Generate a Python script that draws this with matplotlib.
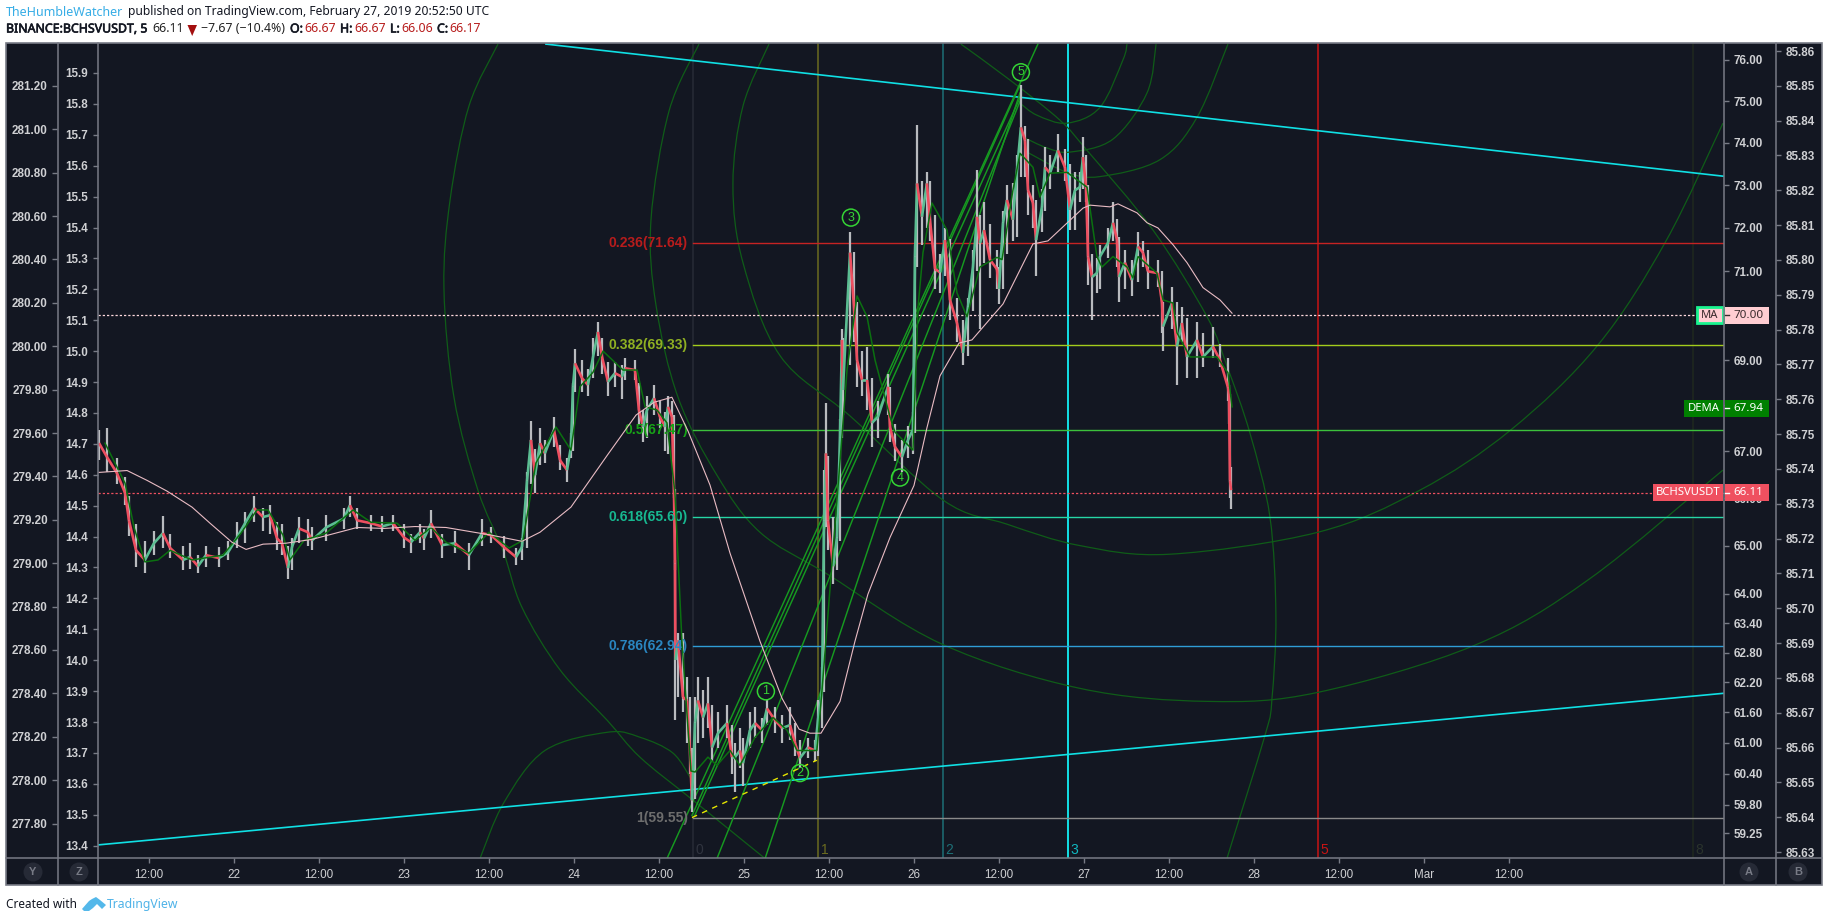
import numpy as np
import matplotlib
matplotlib.use("Agg")
import matplotlib.pyplot as plt
import matplotlib.patheffects as pe
from matplotlib.collections import LineCollection
from matplotlib.patches import Rectangle, Circle, Polygon, PathPatch
from matplotlib.path import Path
from matplotlib.ticker import FixedLocator, FixedFormatter, NullLocator

# ---------- data (days of Feb 2019; day 29 = 1 March) ----------
bar_day = [21.206,21.253,21.312,21.359,21.382,21.424,21.476,21.529,21.582,21.624,21.700,21.741,21.788,21.835,21.912,21.965,
 22.018,22.065,22.118,22.171,22.212,22.253,22.282,22.318,22.341,22.382,22.435,22.459,22.541,22.647,22.682,22.724,22.806,22.871,22.935,
 23.0,23.041,23.094,23.118,23.159,23.224,23.3,23.382,23.459,23.512,23.588,23.659,23.694,23.724,23.747,23.771,23.8,23.829,23.882,23.918,23.959,23.982,
 23.994,24.006,24.047,24.082,24.112,24.141,24.165,24.2,24.241,24.282,24.3,24.359,24.382,24.406,24.429,24.471,24.506,24.535,24.553,24.576,24.588,
 24.594,24.597,24.612,24.641,24.665,24.682,24.694,24.712,24.729,24.759,24.788,24.812,24.847,24.9,24.929,24.947,24.976,24.994,
 25.035,25.065,25.106,25.135,25.182,25.224,25.271,25.3,25.329,25.376,25.418,25.435,25.459,25.471,25.482,25.494,25.524,25.547,25.565,25.576,25.582,
 25.624,25.647,25.665,25.694,25.724,25.753,25.788,25.847,25.859,25.888,25.929,25.965,25.994,26.006,26.018,26.047,26.076,26.094,26.124,26.153,26.182,
 26.212,26.253,26.288,26.318,26.347,26.371,26.388,26.412,26.447,26.488,26.5,26.524,26.547,26.582,26.606,26.629,26.653,26.671,26.7,26.718,26.753,26.771,
 26.8,26.847,26.888,26.918,26.947,26.976,26.994,27.012,27.024,27.047,27.076,27.094,27.141,27.171,27.194,27.206,27.241,27.282,27.318,27.347,27.376,27.435,
 27.459,27.465,27.518,27.547,27.576,27.606,27.665,27.7,27.759,27.8,27.847,27.853,27.859,27.865]
bar_close = [67.18,66.88,66.53,66.11,65.53,64.90,64.70,65.05,65.26,64.95,64.70,64.76,64.57,64.80,64.74,64.86,
 65.17,65.47,65.79,65.60,65.64,65.15,65.05,64.53,64.97,65.36,65.28,65.11,65.38,65.57,65.85,65.53,65.47,65.40,65.47,
 65.17,65.07,65.28,65.15,65.47,65.01,65.05,64.80,65.26,65.22,64.97,64.76,64.97,66.38,67.25,66.49,67.18,66.96,67.47,66.81,66.60,67.10,
 68.41,68.93,68.60,68.45,69.07,69.63,69.07,68.52,68.71,68.63,68.82,68.78,67.90,67.53,67.90,68.16,67.75,67.53,67.97,67.75,66.17,
 64.63,62.65,63.05,61.90,61.84,60.85,59.88,61.40,61.84,61.50,61.78,60.91,61.19,61.39,60.72,60.72,60.85,60.60,
 61.25,61.39,61.25,61.68,61.45,61.29,61.35,61.00,60.70,60.91,60.85,61.45,62.04,65.53,66.96,65.53,64.57,65.17,67.31,69.45,68.34,
 71.43,70.19,69.00,68.56,68.56,67.62,67.75,68.41,67.53,67.10,66.88,67.25,67.47,71.34,73.04,72.26,73.04,72.19,71.05,70.98,71.72,
 70.35,69.83,69.16,70.20,71.10,72.26,71.65,71.95,71.27,71.05,70.60,72.12,72.65,72.19,73.35,74.37,74.06,72.88,72.58,71.72,72.49,73.42,
 73.28,73.82,73.42,72.42,72.88,72.95,73.66,72.95,71.34,70.87,70.96,71.34,71.65,72.12,71.72,70.87,71.20,70.80,71.57,71.43,71.00,70.96,
 70.28,69.75,70.28,69.30,69.83,69.07,69.45,69.07,69.30,69.00,68.40,68.23,66.38,66.17]
bar_high = [67.47,67.50,66.85,66.45,66.05,65.45,65.10,65.30,65.62,65.25,65.00,65.05,64.80,65.00,64.98,65.10,
 65.50,65.70,66.05,65.80,65.85,65.50,65.45,65.00,65.15,65.60,65.55,65.40,65.65,65.80,66.05,65.80,65.65,65.62,65.65,
 65.45,65.25,65.45,65.35,65.75,65.25,65.30,65.05,65.55,65.40,65.20,64.95,65.15,66.55,67.65,67.05,67.50,67.25,67.75,67.15,66.85,67.40,
 68.50,69.25,69.00,68.80,69.50,69.85,69.50,68.95,68.95,68.90,69.05,69.00,68.50,67.90,68.20,68.45,68.10,67.85,68.20,68.10,67.80,
 66.20,64.70,63.20,63.20,62.30,61.90,60.90,61.90,62.30,62.05,62.30,61.75,61.60,61.75,61.35,61.00,61.30,61.10,
 61.60,61.70,61.50,61.85,61.70,61.55,61.70,61.40,61.05,61.10,61.05,61.85,62.50,66.60,68.05,66.90,65.60,65.60,67.70,69.70,69.50,
 71.90,71.45,70.30,69.20,69.30,68.60,68.10,68.70,68.40,67.60,67.25,67.55,67.85,71.60,74.42,73.10,73.30,73.10,72.30,71.40,72.00,
 71.75,70.40,69.90,70.40,71.50,73.35,72.30,72.60,72.10,71.50,71.10,72.40,73.00,73.05,73.70,75.39,74.40,74.10,73.00,72.65,72.90,73.90,
 73.70,74.20,73.85,73.50,73.30,73.30,74.15,73.70,73.00,71.40,71.30,71.60,72.00,72.60,72.20,71.80,71.50,71.25,71.90,71.70,71.50,71.25,
 71.00,70.30,70.65,70.30,70.20,69.95,69.85,69.60,69.75,69.35,69.05,68.45,68.25,66.67]
bar_low = [66.81,66.55,66.30,65.85,65.20,64.55,64.42,64.80,64.95,64.75,64.50,64.52,64.42,64.55,64.55,64.70,
 64.95,65.05,65.50,65.30,65.25,64.90,64.80,64.30,64.50,65.05,65.00,64.90,65.10,65.35,65.60,65.35,65.30,65.28,65.30,
 64.95,64.85,65.05,64.90,65.15,64.75,64.85,64.50,65.00,65.05,64.75,64.60,64.70,64.95,66.30,66.10,66.70,66.75,67.10,66.60,66.35,66.85,
 67.00,68.30,68.30,68.20,68.60,69.10,68.70,68.20,68.40,68.15,68.55,68.55,67.60,67.20,67.30,67.80,67.50,67.00,66.95,67.40,66.00,
 64.50,61.45,61.90,61.60,61.00,60.40,59.65,59.90,61.00,61.10,61.30,60.65,60.90,61.10,60.40,60.05,60.50,60.15,
 60.90,61.10,61.00,61.35,61.20,61.00,61.05,60.75,60.50,60.70,60.65,60.75,61.30,62.00,65.40,64.90,64.20,64.50,65.10,67.30,67.80,
 68.90,69.40,68.40,68.20,67.90,67.10,67.30,67.80,67.20,66.80,66.55,66.85,66.95,67.40,71.10,71.60,72.00,71.70,70.60,70.50,70.90,
 69.90,69.40,68.90,69.10,70.10,71.00,69.70,71.20,70.85,70.60,70.25,70.60,71.40,71.70,71.80,73.20,73.20,72.30,72.00,70.90,71.90,72.40,
 72.90,73.30,73.10,71.95,71.95,72.60,72.90,72.60,70.70,69.90,70.50,70.60,71.30,71.70,71.10,70.30,70.60,70.45,70.75,71.10,70.60,70.65,
 69.60,69.20,69.70,68.45,69.40,68.60,68.60,68.85,69.05,68.85,68.10,67.60,66.00,65.78]

ma_day = [21.206,21.371,21.488,21.606,21.753,21.859,21.988,22.071,22.171,22.306,22.459,22.618,22.724,22.882,23.065,23.247,23.512,23.694,23.8,23.982,
 24.2,24.365,24.471,24.576,24.671,24.8,24.918,25.094,25.224,25.324,25.388,25.453,25.565,25.653,25.729,25.859,26.0,26.076,26.153,26.265,26.341,26.524,26.7,26.788,
 26.994,27.035,27.153,27.2,27.312,27.371,27.435,27.524,27.606,27.7,27.8,27.871]
ma_val = [66.55,66.59,66.38,66.15,65.81,65.47,65.07,64.92,65.03,65.05,65.13,65.28,65.38,65.36,65.40,65.38,65.22,65.09,65.28,65.81,
 66.94,67.79,68.07,68.18,67.44,66.28,64.84,63.03,61.88,61.27,61.19,61.19,61.82,63.03,63.99,65.17,66.27,67.51,68.65,69.38,69.45,70.26,71.63,71.70,
 72.46,72.53,72.49,72.56,72.35,72.12,72.00,71.61,71.20,70.63,70.35,70.05]

dema_day = [21.241,21.359,21.412,21.476,21.553,21.624,21.753,21.935,22.041,22.135,22.2,22.288,22.329,22.412,22.541,22.7,22.806,22.959,23.065,23.159,23.247,23.382,23.5,23.618,23.7,23.776,23.894,23.982,
 24.035,24.112,24.171,24.288,24.371,24.418,24.488,24.547,24.594,24.635,24.688,24.712,24.788,24.841,24.918,24.976,25.065,25.171,25.253,25.312,25.429,25.459,25.576,25.606,25.665,25.724,25.771,25.859,25.888,25.994,
 26.024,26.053,26.106,26.194,26.253,26.312,26.388,26.488,26.518,26.582,26.624,26.7,26.741,26.8,26.9,27.018,27.076,27.106,27.171,27.253,27.288,27.318,27.429,27.465,27.524,27.547,27.624,27.7,27.782,27.847,27.871]
dema_val = [67.18,66.32,65.38,64.66,64.70,64.90,64.70,64.80,65.26,65.75,65.75,65.22,64.70,65.11,65.26,65.75,65.49,65.47,65.11,65.38,65.07,64.84,65.28,64.95,65.11,66.75,67.53,67.03,
 68.41,68.73,69.20,68.78,68.78,67.97,67.90,67.62,66.11,63.03,60.45,60.43,60.72,60.56,60.85,60.56,61.11,61.50,61.25,60.85,60.85,62.04,67.31,68.78,70.44,69.97,69.00,67.75,67.42,67.03,
 70.19,71.43,72.58,71.95,70.51,69.97,71.10,71.32,71.27,72.88,73.75,73.42,72.72,73.28,73.30,72.95,71.34,71.10,71.34,71.10,70.85,71.34,70.96,70.35,70.28,69.61,69.07,69.07,69.07,68.72,67.97]

fib_ratio = ["0.236", "0.382", "0.5", "0.618", "0.786", "1"]
fib_level = [71.64, 69.33, 67.47, 65.60, 62.94, 59.55]
fib_line_color = ["#c62323", "#a3cc1c", "#3cc13c", "#26d6a6", "#2f9dd6", "#8a8a8a"]
fib_text_color = ["#b71c1c", "#8fb022", "#17a317", "#17b890", "#2a86c0", "#6d6d6d"]
fib_start_day = 24.7
fib_label_day = 24.67

zone_day = [24.7, 25.435, 26.17, 26.906, 28.376, 30.582]
zone_label = ["0", "1", "2", "3", "5", "8"]
zone_color = ["#272b36", "#6b6b20", "#1d6f76", "#12e0e6", "#c81414", "#20291f"]
zone_text = ["#30343f", "#6b6b20", "#1d6f76", "#10b8c0", "#c81414", "#2a332c"]

trend_up_day, trend_up_val = [23.835, 30.759], [76.39, 73.21]
trend_lo_day, trend_lo_val = [21.206, 30.759], [59.03, 61.98]

arc_a_day = [23.553,23.382,23.271,23.235,23.294,23.435,23.582,23.694,23.918,24.194,24.388,24.694,25.124]
arc_a_val = [76.39,74.88,72.65,70.62,68.18,66.17,64.90,63.72,62.45,61.45,60.72,59.90,58.77]
arc_b_day = [25.147,24.994,24.935,24.994,25.212,25.624,26.171,26.547,26.976,27.506,28.376,28.976,29.512,30.024,30.424,30.759]
arc_b_val = [76.39,74.88,73.02,71.20,69.10,67.77,65.96,65.45,65.00,64.82,65.28,66.17,67.47,69.34,71.70,74.47]
arc_c_day = [24.735,24.559,24.453,24.482,24.612,24.841,25.094,25.488,26.165,26.976,27.729,28.376,29.3,29.971,30.759]
arc_c_val = [76.39,74.76,72.19,70.24,68.18,66.49,65.28,64.41,62.97,62.08,61.82,62.00,62.95,64.30,66.60]
arc_d_day = [26.276,26.565,26.859,27.018,27.406,27.724,27.841,27.976,28.094,28.129,28.106,28.065,27.841]
arc_d_val = [76.39,75.51,74.54,73.82,71.95,69.97,68.87,67.40,65.60,63.56,61.88,61.15,58.77]
arc_e_day = [23.447,23.588,23.829,24.2,24.388,24.582,24.694]
arc_e_val = [58.77,59.84,60.85,61.21,61.11,60.80,60.27]
arc_f_day = [26.624,26.724,26.9,27.094,27.229,27.253]
arc_f_val = [74.95,74.66,74.47,74.85,76.00,76.39]
arc_g_day = [26.641,26.782,26.918,27.171,27.371,27.424]
arc_g_val = [74.14,73.88,73.78,74.09,75.20,76.39]
arc_h_day = [26.665,26.9,27.094,27.447,27.665,27.847]
arc_h_val = [73.78,73.30,73.20,73.60,74.61,76.39]

fan_day = [[24.547,26.729],[24.694,26.624],[24.71,26.63],[24.841,26.624],[25.124,26.624]]
fan_val = [[58.77,76.39],[59.59,75.39],[59.59,75.14],[58.77,75.00],[58.77,75.20]]

wave_label = ["1", "2", "3", "4", "5"]
wave_day = [25.129, 25.329, 25.629, 25.918, 26.629]
wave_val = [62.02, 60.41, 72.24, 66.44, 75.70]
base_day, base_val = [24.694, 25.429], [59.55, 60.66]

a_ticks = [76,75,74,73,72,71,70,69,68,67,66,65,64,63.4,62.8,62.2,61.6,61,60.4,59.8,59.25]
y_ticks = [281.2,281.0,280.8,280.6,280.4,280.2,280.0,279.8,279.6,279.4,279.2,279.0,278.8,278.6,278.4,278.2,278.0,277.8]
z_ticks = [15.9,15.8,15.7,15.6,15.5,15.4,15.3,15.2,15.1,15.0,14.9,14.8,14.7,14.6,14.5,14.4,14.3,14.2,14.1,14.0,13.9,13.8,13.7,13.6,13.5,13.4]
b_ticks = [85.86,85.85,85.84,85.83,85.82,85.81,85.80,85.79,85.78,85.77,85.76,85.75,85.74,85.73,85.72,85.71,85.70,85.69,85.68,85.67,85.66,85.65,85.64,85.63]
time_ticks = [21.5,22,22.5,23,23.5,24,24.5,25,25.5,26,26.5,27,27.5,28,28.5,29,29.5]
time_labels = ["12:00","22","12:00","23","12:00","24","12:00","25","12:00","26","12:00","27","12:00","28","12:00","Mar","12:00"]

tag_name = ["MA", "DEMA", "BCHSVUSDT"]
tag_value = [70.00, 67.94, 66.11]
tag_fill = ["#ffcdd2", "#008000", "#ef5060"]
tag_ink = ["#3a2a2c", "#ffffff", "#ffffff"]

# ---------- layout ----------
W, H = 1828, 922
BG = "#131722"
FRAME = "#787b86"
TXT = "#cfd0d3"
FONT = "Liberation Sans"
plt.rcParams["font.family"] = [FONT, "DejaVu Sans"]

def box(x0, y0, x1, y1):
    return [x0 / W, 1 - y1 / H, (x1 - x0) / W, (y1 - y0) / H]

def smooth_path(dd, vv):
    """A Bezier curve through the given points (drawing tool arcs are curves)."""
    p = np.column_stack([dd, vv])
    q = np.vstack([p[0], p, p[-1]])
    verts, codes = [p[0]], [Path.MOVETO]
    for i in range(1, len(q) - 2):
        verts += [q[i] + (q[i + 1] - q[i - 1]) / 6, q[i + 1] - (q[i + 2] - q[i]) / 6, q[i + 1]]
        codes += [Path.CURVE4] * 3
    return Path(np.array(verts), codes)

fig = plt.figure(figsize=(W / 100, H / 100), dpi=100, facecolor="white")
PL, PR, PT, PB = 97.5, 1724, 43, 858

under = fig.add_axes([0, 0, 1, 1], zorder=0)
under.set_xlim(0, W); under.set_ylim(H, 0); under.axis("off")
under.add_patch(Rectangle((6, 43), 1816, 842, fc=BG, ec="none"))

ax = fig.add_axes(box(PL, PT, PR, PB), zorder=2, facecolor="none")
ax.set_yscale("log")
ax.set_xlim(21.197, 30.765)
ax.set_ylim(58.78, 76.417)
for s in ax.spines.values():
    s.set_visible(False)

# time zones
for d, c in zip(zone_day, zone_color):
    ax.axvline(d, color=c, lw=1.4 if c == "#12e0e6" else 1.1, zorder=1)
for d, l, c in zip(zone_day, zone_label, zone_text):
    ax.text(d + 0.016, 0.0098, l, transform=ax.get_xaxis_transform(), color=c, fontsize=10, va="center", ha="left")

# arcs
for dd, vv in [(arc_a_day, arc_a_val), (arc_b_day, arc_b_val), (arc_c_day, arc_c_val), (arc_d_day, arc_d_val),
               (arc_e_day, arc_e_val), (arc_f_day, arc_f_val), (arc_g_day, arc_g_val), (arc_h_day, arc_h_val)]:
    ax.add_patch(PathPatch(smooth_path(dd, vv), fill=False, ec="#0f5c18", lw=0.9, zorder=2))

# fib levels
for lv, c in zip(fib_level, fib_line_color):
    ax.plot([fib_start_day, ax.get_xlim()[1]], [lv, lv], color=c, lw=1.0, zorder=2)
for r, lv, c in zip(fib_ratio, fib_level, fib_text_color):
    ax.text(fib_label_day, lv, f"{r}({lv:.2f})", color=c, fontsize=10, fontweight="bold",
            ha="right", va="center", zorder=6)

# last-value dotted lines
ax.axhline(tag_value[0], color="#ffd9de", lw=0.9, dashes=(1.8, 1.6), zorder=2)
ax.axhline(tag_value[2], color="#ef5060", lw=0.9, dashes=(1.8, 1.6), zorder=2)

# trend lines
ax.plot(trend_up_day, trend_up_val, color="#10e0e4", lw=1.2, zorder=3)
ax.plot(trend_lo_day, trend_lo_val, color="#10e0e4", lw=1.2, zorder=3)

# fan
for dd, vv in zip(fan_day, fan_val):
    ax.plot(dd, vv, color="#169a20", lw=1.05, zorder=3)

# candles
days = np.array(bar_day); close = np.array(bar_close)
ax.vlines(days, bar_low, bar_high, color="#b9bbbf", lw=1.6, zorder=4)
segs = [[(days[i - 1], close[i - 1]), (days[i], close[i])] for i in range(1, len(days))]
cols = ["#5bbd92" if close[i] >= close[i - 1] else "#ee4f60" for i in range(1, len(days))]
ax.add_collection(LineCollection(segs, colors=cols, linewidths=1.9, zorder=5, capstyle="butt"))

# indicators
ax.plot(dema_day, dema_val, color="#0b7010", lw=1.1, zorder=6)
ax.plot(ma_day, ma_val, color="#e9bcc4", lw=0.8, zorder=6)

# Elliott waves
ax.plot(base_day, base_val, color="#e6e600", lw=1.0, dashes=(4, 4), zorder=6)
ax.scatter(wave_day, wave_val, s=150, facecolor="none", edgecolor="#35d435", linewidths=1.1, zorder=7)
for l, d, v in zip(wave_label, wave_day, wave_val):
    ax.text(d, v, l, color="#35d435", fontsize=9, ha="center", va="center", zorder=7)

# right price axis and time axis
ax.yaxis.tick_right()
ax.yaxis.set_major_locator(FixedLocator(a_ticks))
ax.yaxis.set_major_formatter(FixedFormatter([f"{v:.2f}" for v in a_ticks]))
ax.yaxis.set_minor_locator(NullLocator())
ax.tick_params(axis="y", which="major", direction="out", length=3.6, width=1, color=FRAME, labelcolor=TXT,
               labelsize=8.4, pad=3)
for t in ax.get_yticklabels():
    t.set_fontweight("bold")
ax.set_xticks(time_ticks)
ax.set_xticklabels(time_labels)
ax.tick_params(axis="x", direction="out", length=3.4, width=1, color=FRAME, labelcolor=TXT, labelsize=8.4, pad=4.5)

def side_axis(x, lo, hi, ticks, fmt, right):
    a = fig.add_axes(box(x, PT, x + 0.2, PB), zorder=3, facecolor="none")
    a.set_ylim(lo, hi)
    a.set_xticks([])
    for s in a.spines.values():
        s.set_visible(False)
    if right:
        a.yaxis.tick_right()
    a.set_yticks(ticks)
    a.set_yticklabels([fmt.format(v) for v in ticks], fontweight="bold")
    a.tick_params(axis="y", direction="out", length=3.6, width=1, color=FRAME, labelcolor=TXT, labelsize=8.4, pad=3.4)
    return a

side_axis(57.5, 277.641, 281.398, y_ticks, "{:.2f}", False)
side_axis(97.5, 13.360, 15.997, z_ticks, "{:.1f}", False)
side_axis(1776, 85.6283, 85.8623, b_ticks, "{:.2f}", True)

# ---------- chrome on top ----------
top = fig.add_axes([0, 0, 1, 1], zorder=5, facecolor="none")
top.set_xlim(0, W); top.set_ylim(H, 0); top.axis("off")
top.add_patch(Rectangle((6, 43), 1816, 842, fc="none", ec=FRAME, lw=1.2))
for x in (57.5, 97.5, 1724, 1776):
    top.plot([x, x], [43, 885], color=FRAME, lw=1.1)
top.plot([6, 1822], [858, 858], color=FRAME, lw=1.1)

for name, val, fill, ink in zip(tag_name, tag_value, tag_fill, tag_ink):
    y = H - ax.transData.transform((25, val))[1]
    x0 = {"MA": 1696, "DEMA": 1684, "BCHSVUSDT": 1653}[name]
    if name == "MA":
        top.add_patch(Rectangle((x0 + 1, y - 8), 1723 - x0 - 1, 16, fc=fill, ec="#19f58f", lw=2.0))
    else:
        top.add_patch(Rectangle((x0, y - 8.5), 1723 - x0, 17, fc=fill, ec="none"))
    top.add_patch(Rectangle((1724.6, y - 8.5), 1769 - 1724.6, 17, fc=fill, ec="none"))
    top.text((x0 + 1723) / 2 + 0.5, y, name, color=ink, fontsize=8.1, ha="center", va="center", family="Noto Sans")
    top.plot([1725, 1728.5], [y, y], color=ink, lw=1)
    top.text(1733, y, f"{val:.2f}", color=ink, fontsize=8.4, ha="left", va="center", family="Noto Sans")

for ch, x in zip("YZAB", (33, 79, 1749, 1798)):
    top.add_patch(Circle((x, 872), 9.5, fc="#262a36", ec="none"))
    top.text(x, 871.5, ch, color="#787b86", fontsize=8, fontweight="bold", ha="center", va="center")

HF = "Noto Sans"
def head(x, y, s, color="#131722", strong=False, size=8.9):
    t = top.text(x, y, s, color=color, fontsize=size, family=HF, ha="left", va="center")
    if strong:
        t.set_path_effects([pe.withStroke(linewidth=0.45, foreground=color)])

head(6, 12, "TheHumbleWatcher", color="#37ade6", size=9.0)
head(128, 12, "published on TradingView.com, February 27, 2019 20:52:50 UTC", size=8.7)
head(6, 29, "BINANCE:BCHSVUSDT, 5", strong=True)
head(152, 29, "66.11", color="#222222")
top.add_patch(Polygon([(187.5, 25), (197, 25), (192.2, 36)], fc="#a30f0f", ec="none"))
head(201, 29, "\u22127.67 (\u221210.4%)", color="#222222")
for x, s in zip((290, 340, 390, 437), ("O:", "H:", "L:", "C:")):
    head(x, 29, s, strong=True)
for x, s in zip((304, 354, 401, 449), ("66.67", "66.67", "66.06", "66.17")):
    head(x, 29, s, color="#b71c1c")

head(6, 904, "Created with", size=8.5)
head(107, 904, "TradingView", color="#4fb3e8", size=8.8)
top.add_patch(Polygon([(82, 909), (89, 901), (92, 899), (96, 897), (100, 900), (106, 905), (102, 909),
                       (97, 904), (93, 908), (89, 911), (84, 911)], fc="#54b8ea", ec="none"))

fig.savefig("out.png", dpi=100, facecolor="white")
